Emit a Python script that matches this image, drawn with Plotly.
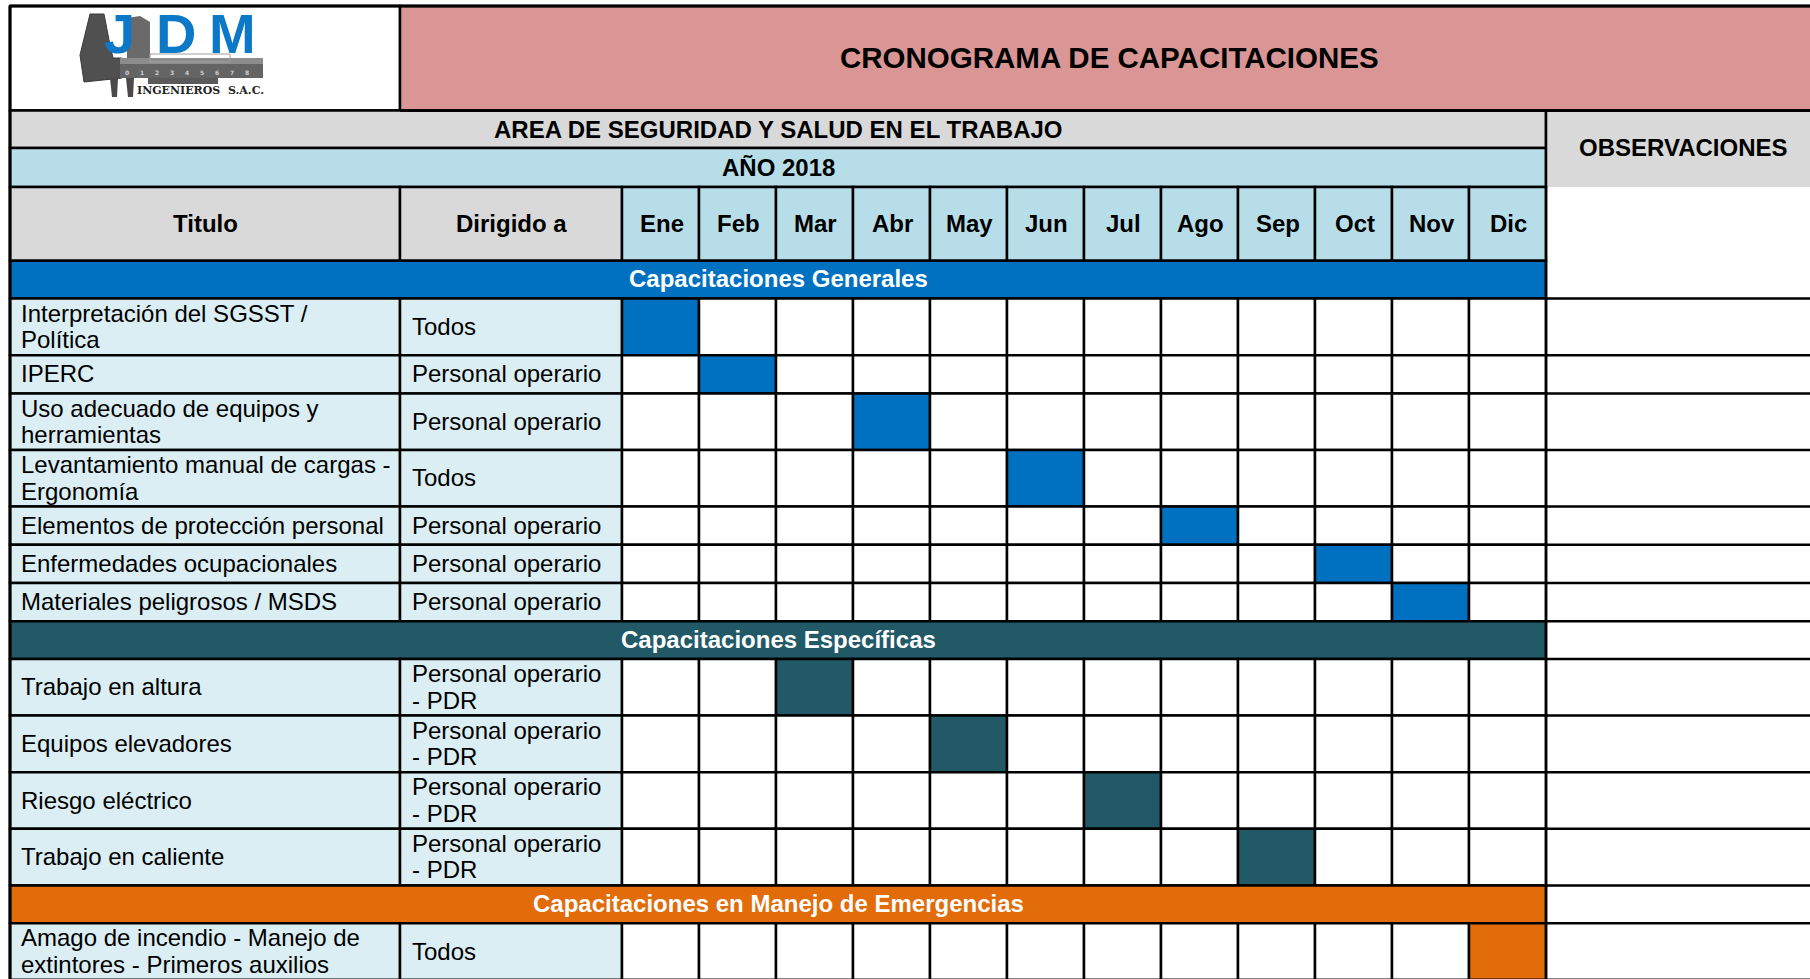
import plotly.graph_objects as go

# ------------------------------------------------------------------ data
titulo_doc = "CRONOGRAMA DE CAPACITACIONES"
area_txt = "AREA DE SEGURIDAD Y SALUD EN EL TRABAJO"
anio_txt = "AÑO 2018"
obs_txt = "OBSERVACIONES"
encabezados = ["Titulo", "Dirigido a"]
meses = ["Ene", "Feb", "Mar", "Abr", "May", "Jun", "Jul", "Ago", "Sep", "Oct", "Nov", "Dic"]

grupos = ["Capacitaciones Generales",
          "Capacitaciones Específicas",
          "Capacitaciones en Manejo de Emergencias"]

titulos_generales = ["Interpretación del SGSST /\nPolítica",
                     "IPERC",
                     "Uso adecuado de equipos y\nherramientas",
                     "Levantamiento manual de cargas -\nErgonomía",
                     "Elementos de protección personal",
                     "Enfermedades ocupacionales",
                     "Materiales peligrosos / MSDS"]
dirigido_generales = ["Todos", "Personal operario", "Personal operario", "Todos",
                      "Personal operario", "Personal operario", "Personal operario"]
mes_generales = ["Ene", "Feb", "Abr", "Jun", "Ago", "Oct", "Nov"]

titulos_especificas = ["Trabajo en altura", "Equipos elevadores",
                       "Riesgo eléctrico", "Trabajo en caliente"]
dirigido_especificas = ["Personal operario\n- PDR"] * 4
mes_especificas = ["Mar", "May", "Jul", "Sep"]

titulos_emergencias = ["Amago de incendio - Manejo de\nextintores - Primeros auxilios"]
dirigido_emergencias = ["Todos"]
mes_emergencias = ["Dic"]

logo_letras = ["J", "D", "M"]
logo_sub = "INGENIEROS  S.A.C."
logo_escala = ["0", "1", "2", "3", "4", "5", "6", "7", "8"]

# ------------------------------------------------------------------ style / layout
W, H = 1810, 979
FONT = "Liberation Sans, Arial, sans-serif"
C_PINK = "#DA9694"
C_GRAY = "#D9D9D9"
C_LBLUE = "#B7DEE8"
C_XLBLUE = "#DAEEF3"
C_BLUE = "#0070C0"
C_TEAL = "#215967"
C_ORANGE = "#E26B0A"
colores_grupo = [C_BLUE, C_TEAL, C_ORANGE]
LW = 2.5

XL, X_DIR, X_MES, MW = 10, 400, 622, 77.0
X_OBS = X_MES + 12 * MW
XR = 1840
Y_TOP, Y_AREA, Y_ANIO, Y_HDR, Y_BODY = 6, 110.5, 148, 187, 260.8
H_BAND, H_ONE, H_TWO = 37.8, 38.2, 56.6
LINE_GAP = 26.4

shapes = []
ann = []


def rect(x0, x1, y0, y1, fill, line=True, lw=LW):
    shapes.append(dict(type="rect", xref="x", yref="y", x0=x0, x1=x1, y0=y0, y1=y1,
                       fillcolor=fill, layer="above",
                       line=dict(color="black", width=lw if line else 0)))


def path(p, fill, edge=None):
    shapes.append(dict(type="path", xref="x", yref="y", path=p, fillcolor=fill, layer="above",
                       line=dict(color=edge or fill, width=1 if edge else 0)))


def hline(x0, x1, y, lw=LW):
    shapes.append(dict(type="line", xref="x", yref="y", x0=x0, x1=x1, y0=y, y1=y,
                       layer="above", line=dict(color="black", width=lw)))


def vline(x, y0, y1, lw=LW):
    shapes.append(dict(type="line", xref="x", yref="y", x0=x, x1=x, y0=y0, y1=y1,
                       layer="above", line=dict(color="black", width=lw)))


def text(x, y, s, size=24, bold=False, color="black", anchor="center", family=FONT, yanchor="middle"):
    ann.append(dict(x=x, y=y, xref="x", yref="y", text=("<b>%s</b>" % s) if bold else s,
                    showarrow=False, xanchor=anchor, yanchor=yanchor,
                    font=dict(family=family, size=size, color=color)))


def mtext(x, yc, s, size=24, anchor="left"):
    lines = s.split("\n")
    n = len(lines)
    for i, ln in enumerate(lines):
        text(x, yc + (i - (n - 1) / 2) * LINE_GAP, ln, size=size, anchor=anchor)


def mes_x(m):
    return X_MES + meses.index(m) * MW


# ---- header: logo cell + title
rect(XL, X_DIR, Y_TOP, Y_AREA, "white")
rect(X_DIR, XR, Y_TOP, Y_AREA, C_PINK)
text((X_DIR + 1818) / 2, (Y_TOP + Y_AREA) / 2 - 1, titulo_doc, size=29.5, bold=True)

# ---- logo (approximation of the JDM caliper logo)
path("M 90 14 L 104 14 L 109 40 L 113 58 L 122 58 L 122 78 L 84 82 L 80 55 Z", "#505050", "#3a3a3a")
path("M 127 18 L 140 16 L 150 22 L 150 58 L 127 58 Z", "#6a6a6a")
rect(120, 263, 58, 78, "#646464", line=False)
rect(120, 263, 58, 64, "#8c8c8c", line=False)
rect(148, 218, 78, 84, "#5a5a5a", line=False)
path("M 110 78 L 118 78 L 117 97 L 112 97 Z", "#4a4a4a")
path("M 126 78 L 134 78 L 133 97 L 128 97 Z", "#4a4a4a")
shapes.append(dict(type="rect", xref="x", yref="y", x0=150, x1=230, y0=54, y1=62,
                   line=dict(color="#a0a0a0", width=1), layer="above"))
for i, s in enumerate(logo_escala):
    text(127 + i * 15, 72, s, size=6, bold=True, color="#d0d0d0", family="DejaVu Sans")
for s, xc in zip(logo_letras, [119, 176, 232]):
    text(xc, 0, s, size=56, bold=True, color="#0B78C8", yanchor="top")
text(200, 90, logo_sub, size=11, bold=True, color="#262626", family="DejaVu Serif")

# ---- area / year rows
rect(XL, X_OBS, Y_AREA, Y_ANIO, C_GRAY)
text((XL + X_OBS) / 2, (Y_AREA + Y_ANIO) / 2, area_txt, bold=True)
rect(XL, X_OBS, Y_ANIO, Y_HDR, C_LBLUE)
text((XL + X_OBS) / 2, (Y_ANIO + Y_HDR) / 2, anio_txt, bold=True)

# ---- observaciones column header
rect(X_OBS, XR, Y_AREA, Y_HDR, C_GRAY, line=False)
text((X_OBS + 1820) / 2, (Y_AREA + Y_HDR) / 2 - 1, obs_txt, bold=True)

# ---- column headers
yc = (Y_HDR + Y_BODY) / 2 - 0.5
rect(XL, X_DIR, Y_HDR, Y_BODY, C_GRAY)
text((XL + X_DIR) / 2, yc, encabezados[0], bold=True)
rect(X_DIR, X_MES, Y_HDR, Y_BODY, C_GRAY)
text((X_DIR + X_MES) / 2, yc, encabezados[1], bold=True)
for i, m in enumerate(meses):
    x0 = X_MES + i * MW
    rect(x0, x0 + MW, Y_HDR, Y_BODY, C_LBLUE)
    text(x0 + MW / 2 + 1, yc, m, bold=True)

# ---- body
bloques = [(titulos_generales, dirigido_generales, mes_generales),
           (titulos_especificas, dirigido_especificas, mes_especificas),
           (titulos_emergencias, dirigido_emergencias, mes_emergencias)]
y = Y_BODY
for g, (tits, dirs, ms) in enumerate(bloques):
    col = colores_grupo[g]
    rect(XL, X_OBS, y, y + H_BAND, col)
    text((XL + X_OBS) / 2, y + H_BAND / 2 - 0.8, grupos[g], bold=True, color="white")
    y += H_BAND
    hline(X_OBS, XR, y)
    for t, d, m in zip(tits, dirs, ms):
        nl = max(t.count("\n"), d.count("\n")) + 1
        h = H_ONE if nl == 1 else H_TWO
        rect(XL, X_DIR, y, y + h, C_XLBLUE)
        rect(X_DIR, X_MES, y, y + h, C_XLBLUE)
        mtext(XL + 9, y + h / 2 - 0.5, t)
        mtext(X_DIR + 10, y + h / 2 - 0.5, d)
        for mm in meses:
            x0 = mes_x(mm)
            rect(x0, x0 + MW, y, y + h, col if mm == m else "white")
        y += h
        hline(X_OBS, XR, y)

# ---- outer frame lines
hline(XL, XR, Y_TOP, lw=3)
hline(X_DIR, XR, Y_AREA, lw=3)
vline(XL, Y_TOP, H + 5, lw=3)
vline(X_OBS, Y_AREA, H + 5)

fig = go.Figure()
fig.add_trace(go.Scatter(x=[0, W], y=[0, H], mode="markers",
                         marker=dict(opacity=0), hoverinfo="skip", showlegend=False))
fig.update_layout(
    width=W, height=H, autosize=False,
    margin=dict(l=0, r=0, t=0, b=0),
    paper_bgcolor="white", plot_bgcolor="white",
    xaxis=dict(range=[0, W], visible=False, fixedrange=True),
    yaxis=dict(range=[H, 0], visible=False, fixedrange=True),
    shapes=shapes, annotations=ann, showlegend=False,
)
fig.write_html("out.html", config={"displayModeBar": False},
               post_script="document.body.style.margin='0';document.body.style.overflow='hidden';")
